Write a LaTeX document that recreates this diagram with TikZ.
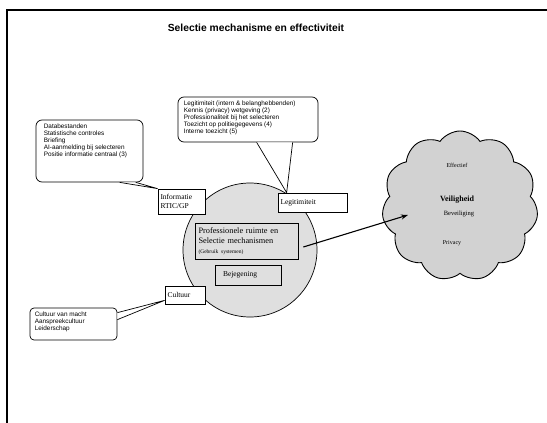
\documentclass[tikz,border=0pt]{standalone}
\usepackage{fontspec}
\setmainfont{Liberation Serif}
\newfontfamily\lsans{Liberation Sans}
\usetikzlibrary{shapes.symbols,calc,arrows.meta}
\tikzset{
  bx/.style={draw, line width=0.7pt, fill=white, inner sep=2pt, align=left, font=\fontsize{7.5}{8.5}\selectfont},
  gbx/.style={draw, line width=0.7pt, inner sep=2pt, align=left},
  callbox/.style={draw, line width=0.7pt, fill=white, rounded corners=6pt},
  ctext/.style={inner sep=0pt, align=left, font=\lsans\fontsize{6.4}{7}\selectfont},
  tail/.style={line width=0.7pt},
  conn/.style={line width=1.1pt, -{Stealth[length=7pt,width=5pt]}},
  cltext/.style={inner sep=0pt, font=\fontsize{7}{8}\selectfont}
}
\begin{document}
\begin{tikzpicture}[x=1pt,y=-1pt]
\useasboundingbox (0,0) rectangle (547,423);
\fill[white] (0,0) rectangle (547,423);
% page frame
\draw[line width=1.3pt] (7,423) -- (7,10) -- (547,10);
% title
\node[font=\lsans\bfseries\fontsize{10.3}{12}\selectfont] (title) at (256,28) {Selectie mechanisme en effectiviteit};

% central circle
\node[circle, draw, line width=0.7pt, fill=gray!25, minimum size=134pt, inner sep=0pt] (circ) at (250,250) {};
\node[gbx, minimum width=103pt, minimum height=36pt, text width=96pt, font=\fontsize{8.3}{10}\selectfont] (inner) at (246.5,241)
  {Professionele ruimte en\\ Selectie mechanismen\\ {\fontsize{5.5}{6}\selectfont (Gebruik systemen)}};
\node[gbx, minimum width=66pt, minimum height=20pt, text width=58pt, font=\fontsize{7.5}{8}\selectfont] (bej) at (248,275) {\hspace*{4pt}Bejegening};

% boxes around the circle
\node[bx, minimum width=47pt, minimum height=25pt, text width=42pt] (info) at (181.5,201.5) {Informatie\\ RTIC/GP};
\node[bx, minimum width=69pt, minimum height=19pt, text width=64pt] (leg) at (312.5,202.5) {Legitimiteit};
\node[bx, minimum width=40pt, minimum height=18pt, text width=35pt] (cul) at (185,295) {Cultuur};

% cloud
\node[cloud, draw, line width=0.9pt, fill=gray!35, cloud puffs=11, cloud puff arc=110,
      aspect=1, minimum width=156pt, minimum height=150pt, inner sep=0pt] (cl) at (460,206) {};
\node[cltext, font=\fontsize{6}{7}\selectfont] (c1) at (457,165) {Effectief};
\node[cltext, font=\bfseries\fontsize{8}{9}\selectfont] (c2) at (457,200) {Veiligheid};
\node[cltext, font=\fontsize{6.5}{7}\selectfont] (c3) at (459,214) {Beveiliging};
\node[cltext, font=\fontsize{6}{7}\selectfont] (c4) at (452,243) {Privacy};

% arrow from inner box to cloud
\coordinate (astart) at ($(inner.east)+(5pt,-6pt)$);
\coordinate (aend) at ($(cl.center)+(-52pt,-9pt)$);
\draw[conn] (astart) -- (aend);

% left callout
\node[callbox, minimum width=107pt, minimum height=62pt] (lc) at (89.5,151) {};
\node[ctext, anchor=north west] (lct) at ($(lc.north west)+(8pt,-4pt)$)
  {Databestanden\\ Statistische controles\\ Briefing\\ AI-aanmelding bij selecteren\\ Positie informatie centraal (3)};
\coordinate (lca) at ($(lc.south west)+(84pt,0pt)$);
\coordinate (lcb) at ($(lc.south west)+(100pt,0pt)$);
\fill[white] (lca) -- (info.north west) -- (lcb) -- cycle;
\draw[tail] (lca) -- (info.north west) -- (lcb);

% top callout
\node[callbox, minimum width=140pt, minimum height=45pt] (tc) at (248,119.5) {};
\node[ctext, anchor=north west] (tct) at ($(tc.north west)+(6pt,-4pt)$)
  {Legitimiteit (intern \& belanghebbenden)\\ Kennis (privacy) wetgeving (2)\\ Professionaliteit bij het selecteren\\ Toezicht op politiegegevens (4)\\ Interne toezicht (5)};
\coordinate (tca) at ($(tc.south west)+(79pt,0pt)$);
\coordinate (tcb) at ($(tc.south west)+(115pt,0pt)$);
\coordinate (legtip) at ($(leg.north west)+(9pt,0pt)$);
\fill[white] (tca) -- (legtip) -- (tcb) -- cycle;
\draw[tail] (tca) -- (legtip) -- (tcb);

% bottom-left callout
\node[callbox, rounded corners=4pt, minimum width=87pt, minimum height=32pt] (bc) at (73.5,324) {};
\node[ctext, anchor=north west] (bct) at ($(bc.north west)+(5pt,-4pt)$)
  {Cultuur van macht\\ Aanspreekcultuur\\ Leiderschap};
\coordinate (bca) at ($(bc.north east)+(0pt,-5pt)$);
\coordinate (bcb) at ($(bc.north east)+(0pt,-12pt)$);
\coordinate (cultip) at ($(cul.south west)+(0pt,4pt)$);
\fill[white] (bca) -- (cultip) -- (bcb) -- cycle;
\draw[tail] (bca) -- (cultip) -- (bcb);
\end{tikzpicture}
\end{document}
